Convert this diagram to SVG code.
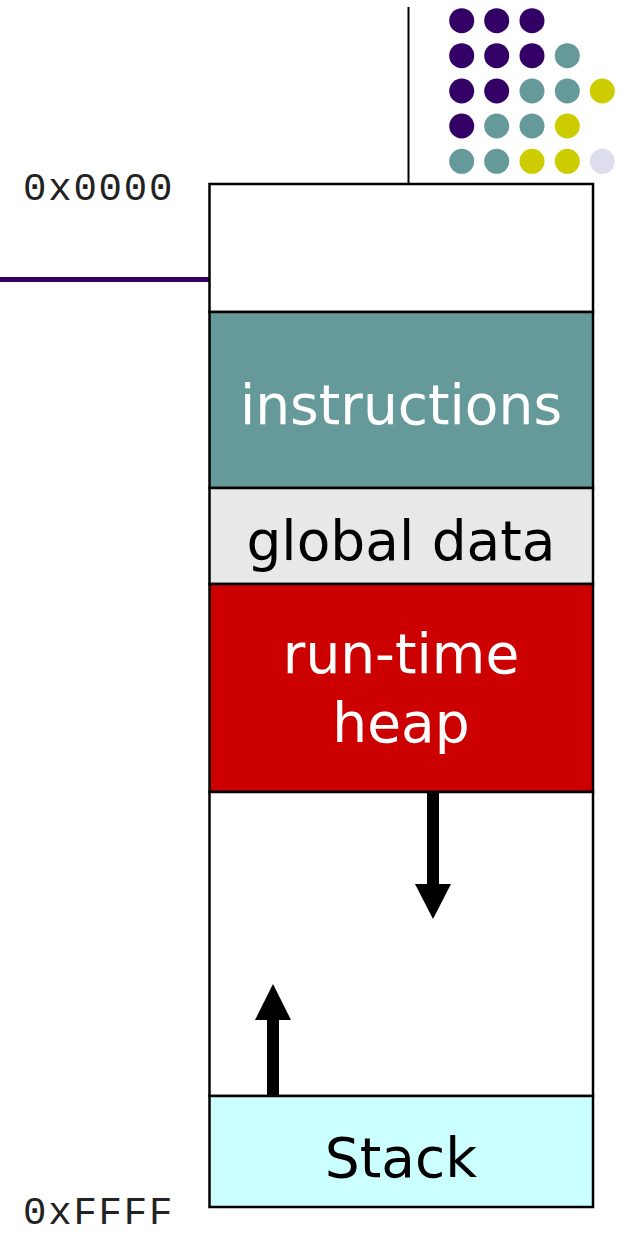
<svg xmlns="http://www.w3.org/2000/svg" width="620" height="1236" viewBox="0 0 620 1236">
<style>
.seg{stroke:#000;stroke-width:2.5}
.lbl{font-family:"DejaVu Sans",sans-serif;font-size:55px;text-anchor:middle}
.addr{font-family:"Liberation Mono",monospace;font-size:39px;letter-spacing:1.8px;fill:#222}
.p{fill:#330066}.t{fill:#669999}.y{fill:#CCCC00}.l{fill:#DDDDEE}
</style>
<rect width="620" height="1236" fill="#fff"/>
<g id="logo">
<line x1="408.5" y1="7" x2="408.5" y2="184" stroke="#000" stroke-width="2"/>
<circle class="p" cx="461.7" cy="20.7" r="12.5"/><circle class="p" cx="496.7" cy="20.7" r="12.5"/><circle class="p" cx="532" cy="20.7" r="12.5"/>
<circle class="p" cx="461.7" cy="55.7" r="12.5"/><circle class="p" cx="496.7" cy="55.7" r="12.5"/><circle class="p" cx="532" cy="55.7" r="12.5"/><circle class="t" cx="567.3" cy="55.7" r="12.5"/>
<circle class="p" cx="461.7" cy="91" r="12.5"/><circle class="p" cx="496.7" cy="91" r="12.5"/><circle class="t" cx="532" cy="91" r="12.5"/><circle class="t" cx="567.3" cy="91" r="12.5"/><circle class="y" cx="602.3" cy="91" r="12.5"/>
<circle class="p" cx="461.7" cy="126" r="12.5"/><circle class="t" cx="496.7" cy="126" r="12.5"/><circle class="t" cx="532" cy="126" r="12.5"/><circle class="y" cx="567.3" cy="126" r="12.5"/>
<circle class="t" cx="461.7" cy="161.3" r="12.5"/><circle class="t" cx="496.7" cy="161.3" r="12.5"/><circle class="y" cx="532" cy="161.3" r="12.5"/><circle class="y" cx="567.3" cy="161.3" r="12.5"/><circle class="l" cx="602.3" cy="161.3" r="12.5"/>
<line x1="0" y1="279.5" x2="209" y2="279.5" stroke="#330066" stroke-width="5"/>
</g>
<g id="addr-top"><text class="addr" x="23" y="200">0x0000</text></g>
<g id="addr-bottom"><text class="addr" x="23" y="1224">0xFFFF</text></g>
<g id="reserved"><rect class="seg" x="209.5" y="184" width="383.5" height="128" fill="#fff"/></g>
<g id="instructions"><rect class="seg" x="209.5" y="312" width="383.5" height="176" fill="#669999"/><text class="lbl" x="401" y="424" fill="#fff">instructions</text></g>
<g id="global-data"><rect class="seg" x="209.5" y="488" width="383.5" height="96" fill="#E8E8E8"/><text class="lbl" x="401" y="560" fill="#000">global data</text></g>
<g id="heap"><rect class="seg" x="209.5" y="584" width="383.5" height="208" fill="#CC0000"/><text class="lbl" x="401" y="673" fill="#fff">run-time</text><text class="lbl" x="401" y="742" fill="#fff">heap</text></g>
<g id="free"><rect class="seg" x="209.5" y="792" width="383.5" height="304" fill="#fff"/></g>
<g id="stack"><rect class="seg" x="209.5" y="1096" width="383.5" height="111" fill="#CCFFFF"/><text class="lbl" x="401" y="1177" fill="#000">Stack</text></g>
<g id="connectors">
<rect x="427" y="793" width="12" height="92" fill="#000"/>
<polygon points="415,884 451,884 433,919" fill="#000"/>
<rect x="267" y="1019" width="12" height="76" fill="#000"/>
<polygon points="255,1020 291,1020 273,984" fill="#000"/>
</g>
</svg>
